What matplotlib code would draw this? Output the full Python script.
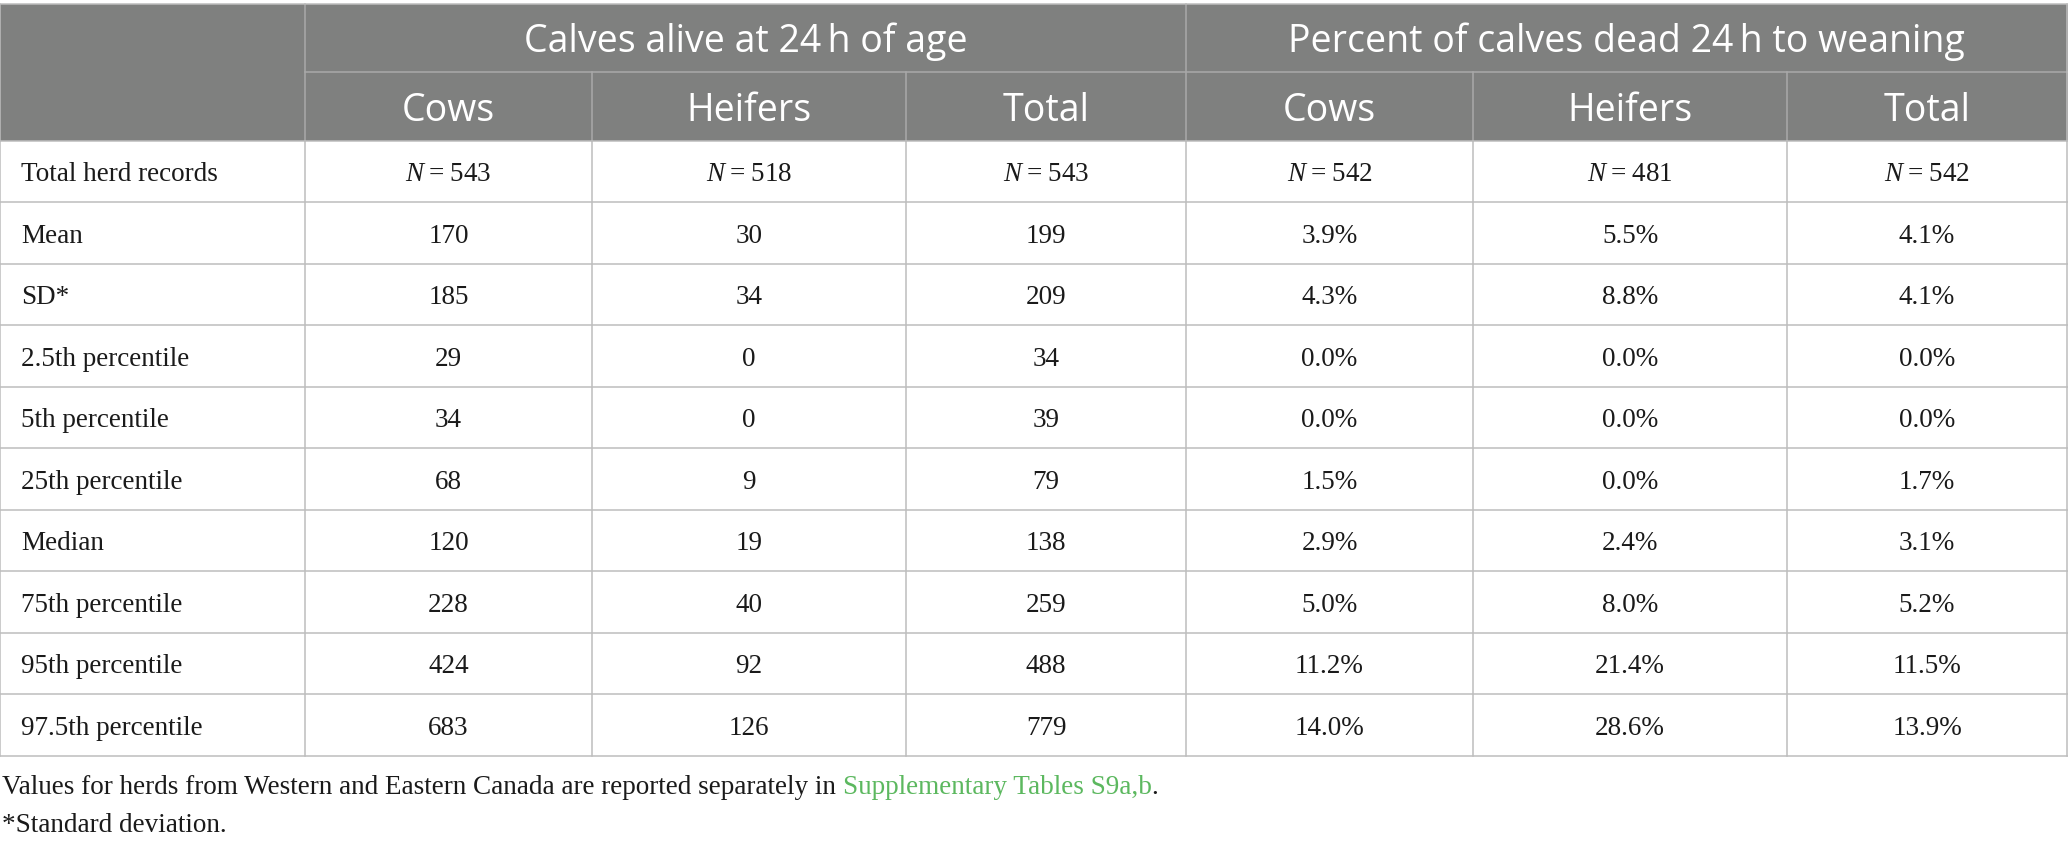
import matplotlib
matplotlib.use("Agg")
import matplotlib.pyplot as plt

# ---------------- data ----------------
group_headers = ["Calves alive at 24\u2009h of age", "Percent of calves dead 24\u2009h to weaning"]
sub_headers = ["Cows", "Heifers", "Total", "Cows", "Heifers", "Total"]
row_labels = ["Total herd records", "Mean", "SD*", "2.5th percentile", "5th percentile",
              "25th percentile", "Median", "75th percentile", "95th percentile", "97.5th percentile"]
n_records = [543, 518, 543, 542, 481, 542]
alive_cows = [170, 185, 29, 34, 68, 120, 228, 424, 683]
alive_heifers = [30, 34, 0, 0, 9, 19, 40, 92, 126]
alive_total = [199, 209, 34, 39, 79, 138, 259, 488, 779]
dead_cows = [3.9, 4.3, 0.0, 0.0, 1.5, 2.9, 5.0, 11.2, 14.0]
dead_heifers = [5.5, 8.8, 0.0, 0.0, 0.0, 2.4, 8.0, 21.4, 28.6]
dead_total = [4.1, 4.1, 0.0, 0.0, 1.7, 3.1, 5.2, 11.5, 13.9]
footnote1 = "Values for herds from Western and Eastern Canada are reported separately in "
footnote_link = "Supplementary Tables S9a,b"
footnote2 = "*Standard deviation."

# ---------------- style ----------------
W, H = 2068, 847
HEAD_BG = "#7f807f"
HEAD_LINE = "#a9a9a9"
GRID = "#bdbdbd"
LINK = "#5cb85f"
SERIF = "Liberation Serif"
SANS = "Open Sans"
HW = "normal"

plt.rcParams["mathtext.fontset"] = "custom"
plt.rcParams["mathtext.it"] = "Liberation Serif:italic"
plt.rcParams["mathtext.rm"] = "Liberation Serif"

fig = plt.figure(figsize=(W / 100, H / 100), dpi=100)
ax = fig.add_axes([0, 0, 1, 1])
ax.set_xlim(0, W)
ax.set_ylim(H, 0)
ax.axis("off")
fig.canvas.draw()
r = fig.canvas.get_renderer()

col_edges = [0, 305, 592, 906, 1186, 1473, 1787, 2067]
top, mid, head_bot = 4.5, 72, 141
row_h = 61.5
n_rows = len(row_labels)
row_edges = [head_bot + i * row_h for i in range(n_rows + 1)]
bottom = row_edges[-1]

# header background
ax.add_patch(plt.Rectangle((0, top), W, head_bot - top, facecolor=HEAD_BG, edgecolor="none", zorder=1))

lw = 1.1
ax.plot([col_edges[1], W], [mid, mid], color=HEAD_LINE, lw=lw, zorder=2)
for x in [col_edges[1], col_edges[4]]:
    ax.plot([x, x], [top, head_bot], color=HEAD_LINE, lw=lw, zorder=2)
for x in [col_edges[2], col_edges[3], col_edges[5], col_edges[6]]:
    ax.plot([x, x], [mid, head_bot], color=HEAD_LINE, lw=lw, zorder=2)

for y in row_edges:
    ax.plot([0, W], [y, y], color=GRID, lw=lw, zorder=2)
ax.plot([0, W], [top, top], color=GRID, lw=lw, zorder=2)
for x in col_edges:
    ax.plot([x, x], [head_bot, bottom], color=GRID, lw=lw, zorder=2)
for x in [0, col_edges[-1]]:
    ax.plot([x, x], [top, head_bot], color=GRID, lw=lw, zorder=2)

# header font size fitted to reference text widths
target_w = [443, 676]
base = 20
ratios = []
for s, tw in zip(group_headers, target_w):
    t = ax.text(0, 0, s, fontsize=base, family=SANS, fontweight=HW)
    ratios.append(tw / t.get_window_extent(r).width)
    t.remove()
hfs = base * sum(ratios) / len(ratios)

ax.text((col_edges[1] + col_edges[4]) / 2, (top + mid) / 2 + 14, group_headers[0],
        ha="center", va="baseline", color="white", fontsize=hfs, family=SANS, fontweight=HW, zorder=3)
ax.text((col_edges[4] + col_edges[7]) / 2, (top + mid) / 2 + 14, group_headers[1],
        ha="center", va="baseline", color="white", fontsize=hfs, family=SANS, fontweight=HW, zorder=3)
for j, s in enumerate(sub_headers):
    cx = (col_edges[j + 1] + col_edges[j + 2]) / 2
    ax.text(cx, (mid + head_bot) / 2 + 14.5, s, ha="center", va="baseline",
            color="white", fontsize=hfs, family=SANS, fontweight=HW, zorder=3)

# body text
bfs = 19.5
columns = [alive_cows, alive_heifers, alive_total, dead_cows, dead_heifers, dead_total]
for i, lab in enumerate(row_labels):
    cy = (row_edges[i] + row_edges[i + 1]) / 2 + 9.5
    ax.text(21, cy, lab, ha="left", va="baseline", fontsize=bfs, family=SERIF, color="#1a1a1a", zorder=3)
    for j in range(6):
        cx = (col_edges[j + 1] + col_edges[j + 2]) / 2
        if i == 0:
            s = r"$N$" + "\u2009=\u2009" + str(n_records[j])
        else:
            v = columns[j][i - 1]
            s = f"{v:.1f}%" if j >= 3 else f"{v}"
        ax.text(cx, cy, s, ha="center", va="baseline", fontsize=bfs, family=SERIF, color="#1a1a1a", zorder=3)

# footnotes
t1 = ax.text(2, 794, footnote1, ha="left", va="baseline", fontsize=bfs, family=SERIF, color="#1a1a1a")
bb = t1.get_window_extent(r)
x1 = ax.transData.inverted().transform((bb.x1, 0))[0]
t2 = ax.text(x1, 794, footnote_link, ha="left", va="baseline", fontsize=bfs, family=SERIF, color=LINK)
bb2 = t2.get_window_extent(r)
x2 = ax.transData.inverted().transform((bb2.x1, 0))[0]
ax.text(x2, 794, ".", ha="left", va="baseline", fontsize=bfs, family=SERIF, color="#1a1a1a")
ax.text(2, 832, footnote2, ha="left", va="baseline", fontsize=bfs, family=SERIF, color="#1a1a1a")

fig.savefig("out.png", dpi=100, facecolor="white")
